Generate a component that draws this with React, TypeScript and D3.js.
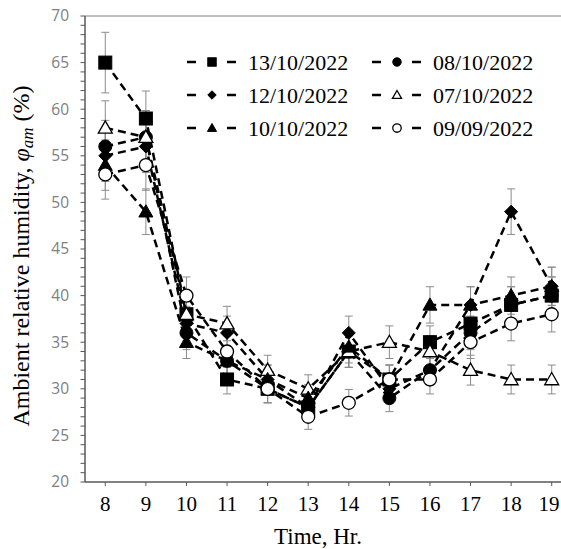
import React from "react";
import * as d3 from "d3";

const hours = [8, 9, 10, 11, 12, 13, 14, 15, 16, 17, 18, 19];
const s13_10 = [65, 59, 38, 31, 30, 28, 34, 31, 35, 37, 39, 40];
const s12_10 = [55, 56, 37, 36, 31, 28, 36, 30, 32, 39, 49, 41];
const s10_10 = [54, 49, 35, 33, 31, 29, 34.5, 31, 39, 39, 40, 41];
const s08_10 = [56, 57, 36, 33, 30, 28, 34, 29, 32, 36, 39, 40];
const s07_10 = [58, 57, 38, 37, 32, 30, 34, 35, 34, 32, 31, 31];
const s09_09 = [53, 54, 40, 34, 30, 27, 28.5, 31, 31, 35, 37, 38];
const errorPct = 0.05;
const yTicks = [20, 25, 30, 35, 40, 45, 50, 55, 60, 65, 70];
const seriesNames = ["13/10/2022", "08/10/2022", "12/10/2022", "07/10/2022", "10/10/2022", "09/09/2022"];
const seriesValues = [s13_10, s08_10, s12_10, s07_10, s10_10, s09_09];
const seriesShapes = ["square", "circle", "diamond", "triangle", "triangle", "circle"];
const seriesFilled = [true, true, true, false, true, false];

const W = 561, H = 549;
const x = d3.scaleLinear().domain([7.5, 19.5]).range([85, 572]);
const y = d3.scaleLinear().domain([20, 70]).range([482, 16]);

function Marker({ shape, filled, cx, cy, s = 1 }) {
  const fill = filled ? "#000" : "#fff";
  const sw = filled ? 1 : 1.3;
  if (shape === "square") {
    const h = 6.5 * s;
    return <rect x={cx - h} y={cy - h} width={2 * h} height={2 * h} fill={fill} stroke="#000" strokeWidth={sw} />;
  }
  if (shape === "circle") {
    return <circle cx={cx} cy={cy} r={6.5 * s} fill={fill} stroke="#000" strokeWidth={sw} />;
  }
  if (shape === "diamond") {
    const h = 6.5 * s;
    return <path d={`M${cx},${cy - h}L${cx + h},${cy}L${cx},${cy + h}L${cx - h},${cy}Z`} fill={fill} stroke="#000" strokeWidth={sw} />;
  }
  const h = 7 * s;
  return <path d={`M${cx},${cy - h}L${cx + h},${cy + h * 0.75}L${cx - h},${cy + h * 0.75}Z`} fill={fill} stroke="#000" strokeWidth={sw} />;
}

export default function App() {
  const line = d3.line<number>().x((_, i) => x(hours[i])).y((v) => y(v));
  const minor = d3.range(20, 71, 1);
  const legendPos = [
    [187, 62], [372, 62], [187, 95], [372, 95], [187, 128], [372, 128],
  ];
  return (
    <div style={{ position: "fixed", left: 0, top: 0 }}>
      <svg width={W} height={H} style={{ display: "block", background: "#fff" }}>
        {/* axes */}
        <line x1={85} x2={W} y1={16} y2={16} stroke="#7f7f7f" strokeWidth={1} />
        <line x1={85} x2={85} y1={16} y2={482} stroke="#595959" strokeWidth={1.5} />
        <line x1={85} x2={W} y1={482} y2={482} stroke="#595959" strokeWidth={1.5} />
        {minor.map((v) => (
          <line key={"m" + v} x1={80.5} x2={85} y1={y(v)} y2={y(v)} stroke="#595959" strokeWidth={1} />
        ))}
        {hours.map((h) => (
          <line key={"xt" + h} x1={x(h)} x2={x(h)} y1={482} y2={486} stroke="#595959" strokeWidth={1} />
        ))}
        {yTicks.map((v) => (
          <text key={"yl" + v} x={69} y={y(v)} dy="0.35em" textAnchor="end" fontFamily="'Open Sans', sans-serif" fontSize={15.5} fill="#808080">
            {v}
          </text>
        ))}
        {hours.map((h) => (
          <text key={"xl" + h} x={Math.min(x(h), W - 12)} y={511} textAnchor="middle" fontFamily="'Liberation Serif', serif" fontSize={21} fill="#000">
            {h}
          </text>
        ))}
        <text x={318} y={544} textAnchor="middle" fontFamily="'Liberation Serif', serif" fontSize={23} fill="#000">
          Time, Hr.
        </text>
        <text transform="translate(29,256) rotate(-90)" textAnchor="middle" fontFamily="'Liberation Serif', serif" fontSize={24} fill="#000">
          Ambient relative humidity, <tspan fontStyle="italic">φ</tspan>
          <tspan fontStyle="italic" fontSize={17} dy={4}>am</tspan>
          <tspan dy={-4}> (%)</tspan>
        </text>
        {/* error bars */}
        {seriesValues.map((vals, si) =>
          vals.map((v, i) => {
            const e = v * errorPct;
            const cx = x(hours[i]);
            return (
              <g key={`e${si}-${i}`} stroke="#8c8c8c" strokeWidth={1}>
                <line x1={cx} x2={cx} y1={y(v + e)} y2={y(v - e)} />
                <line x1={cx - 4} x2={cx + 4} y1={y(v + e)} y2={y(v + e)} />
                <line x1={cx - 4} x2={cx + 4} y1={y(v - e)} y2={y(v - e)} />
              </g>
            );
          })
        )}
        {/* series */}
        {seriesValues.map((vals, si) => (
          <g key={"s" + si}>
            <path d={line(vals) || ""} fill="none" stroke="#000" strokeWidth={2.5} strokeDasharray="8,5" />
            {vals.map((v, i) => (
              <Marker key={i} shape={seriesShapes[si]} filled={seriesFilled[si]} cx={x(hours[i])} cy={y(v)} />
            ))}
          </g>
        ))}
        {/* legend */}
        {seriesNames.map((name, si) => {
          const [lx, ly] = legendPos[si];
          return (
            <g key={"lg" + si}>
              <line x1={lx} x2={lx + 9} y1={ly} y2={ly} stroke="#000" strokeWidth={2.5} />
              <line x1={lx + 40} x2={lx + 49} y1={ly} y2={ly} stroke="#000" strokeWidth={2.5} />
              <Marker shape={seriesShapes[si]} filled={seriesFilled[si]} cx={lx + 25} cy={ly} s={0.65} />
              <text x={lx + 61} y={ly + 7.5} fontFamily="'Liberation Serif', serif" fontSize={22} fill="#000">
                {name}
              </text>
            </g>
          );
        })}
      </svg>
    </div>
  );
}
